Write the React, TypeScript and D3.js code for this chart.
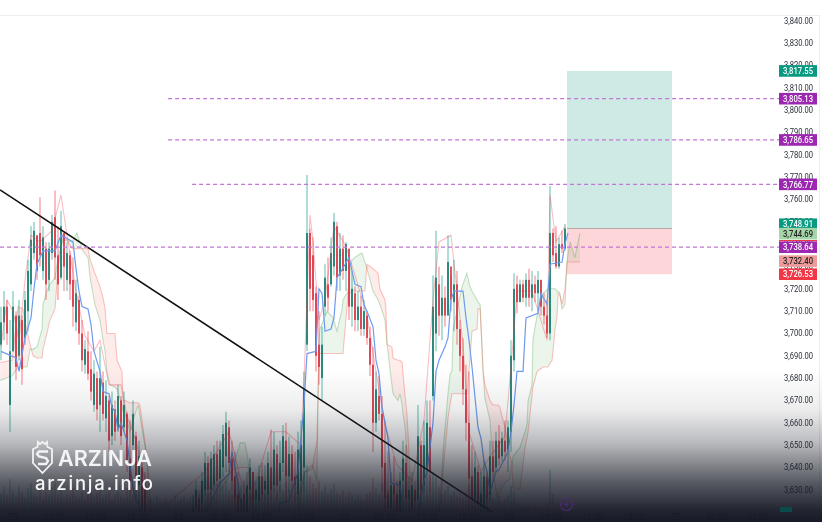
import React, { useEffect, useRef } from 'react';
import * as d3 from 'd3';

const WIDTH = 822;
const HEIGHT = 522;

const candleHigh = [
  3712, 3719, 3715, 3706, 3719, 3710, 3715, 3708, 3719, 3733,
  3748, 3750, 3744, 3761, 3748, 3741, 3741, 3753, 3764, 3748,
  3755, 3744, 3741, 3737, 3734, 3724, 3717, 3706, 3697, 3701,
  3692, 3688, 3683, 3694, 3683, 3679, 3672, 3674, 3670, 3677,
  3672, 3674, 3665, 3661, 3670, 3656, 3652, 3643, 3638,
  3614, 3612, 3610, 3611, 3609, 3608, 3610, 3607, 3609, 3608, 3610, 3609, 3611, 3612, 3614,
  3627, 3634, 3628, 3638, 3647, 3645, 3647, 3650, 3652, 3652,
  3659, 3665, 3661, 3652, 3647, 3638, 3632, 3634, 3638, 3644,
  3638, 3634, 3641, 3642, 3641, 3647, 3657, 3656, 3650, 3652,
  3659, 3660, 3654, 3650, 3647, 3656, 3661, 3683, 3771, 3747,
  3743, 3721, 3710, 3703, 3731, 3734, 3743, 3754, 3750, 3745,
  3744, 3741, 3735, 3728, 3721, 3719, 3717, 3715, 3710, 3703,
  3694, 3683, 3681, 3672, 3661, 3647, 3638, 3645, 3634, 3638,
  3652, 3650, 3636, 3638, 3634, 3668, 3652, 3661, 3670, 3670,
  3726, 3746, 3730, 3726, 3721, 3744, 3726, 3733, 3728, 3706,
  3698, 3686, 3683, 3650, 3647, 3641, 3638, 3643, 3638, 3652,
  3652, 3656, 3659, 3656, 3661, 3661, 3697, 3727, 3726, 3724,
  3724, 3727, 3729, 3728, 3726, 3728, 3724, 3718, 3715, 3766,
  3747, 3748, 3743, 3746, 3749,
];

const candleLow = [
  3688, 3697, 3695, 3656, 3692, 3679, 3688, 3677, 3695, 3701,
  3719, 3733, 3724, 3730, 3724, 3715, 3719, 3733, 3724, 3715,
  3724, 3719, 3719, 3715, 3703, 3701, 3695, 3683, 3682, 3679,
  3670, 3665, 3661, 3656, 3661, 3656, 3647, 3650, 3652, 3656,
  3650, 3656, 3638, 3629, 3647, 3625, 3620, 3616, 3612,
  3604, 3603, 3601, 3602, 3600, 3599, 3600, 3598, 3600, 3599, 3601, 3600, 3602, 3603, 3605,
  3612, 3620, 3612, 3620, 3627, 3625, 3625, 3629, 3629, 3629,
  3636, 3638, 3638, 3629, 3620, 3618, 3616, 3616, 3618, 3625,
  3620, 3620, 3623, 3625, 3625, 3623, 3625, 3629, 3625, 3629,
  3638, 3625, 3629, 3629, 3625, 3625, 3629, 3629, 3692, 3710,
  3710, 3683, 3677, 3670, 3708, 3710, 3721, 3726, 3719, 3719,
  3724, 3719, 3706, 3703, 3701, 3701, 3699, 3699, 3695, 3681,
  3647, 3656, 3661, 3629, 3620, 3618, 3616, 3620, 3616, 3618,
  3620, 3620, 3618, 3620, 3620, 3625, 3623, 3629, 3634, 3629,
  3670, 3692, 3699, 3697, 3703, 3710, 3710, 3701, 3695, 3683,
  3668, 3652, 3620, 3620, 3620, 3620, 3620, 3620, 3620, 3625,
  3634, 3638, 3641, 3643, 3643, 3638, 3647, 3683, 3709, 3715,
  3714, 3712, 3712, 3710, 3714, 3710, 3708, 3704, 3698, 3697,
  3732, 3729, 3729, 3736, 3737,
];

const candleOpen = [
  3695, 3705, 3712, 3668, 3692, 3708, 3690, 3706, 3698, 3710,
  3722, 3736, 3744, 3745, 3728, 3738, 3724, 3736, 3752, 3735,
  3725, 3745, 3724, 3735, 3724, 3705, 3715, 3700, 3686, 3692,
  3684, 3668, 3680, 3668, 3678, 3662, 3670, 3654, 3666, 3658,
  3670, 3658, 3664, 3644, 3650, 3654, 3632, 3640, 3630,
  3612, 3605, 3608, 3604, 3607, 3601, 3608, 3600, 3607, 3602, 3604, 3607, 3604, 3610, 3607,
  3616, 3622, 3626, 3624, 3630, 3642, 3630, 3632, 3646, 3635,
  3640, 3645, 3658, 3644, 3636, 3628, 3622, 3628, 3620, 3630,
  3638, 3626, 3625, 3636, 3630, 3628, 3640, 3632, 3646, 3634,
  3642, 3652, 3636, 3646, 3636, 3628, 3634, 3640, 3695, 3745,
  3735, 3718, 3695, 3680, 3712, 3722, 3722, 3730, 3748, 3726,
  3738, 3728, 3738, 3712, 3718, 3706, 3712, 3702, 3708, 3698,
  3686, 3660, 3672, 3664, 3642, 3628, 3622, 3632, 3628, 3620,
  3634, 3642, 3626, 3622, 3630, 3626, 3650, 3632, 3640, 3658,
  3672, 3700, 3722, 3708, 3716, 3708, 3730, 3714, 3722, 3702,
  3690, 3675, 3660, 3636, 3626, 3638, 3624, 3622, 3636, 3628,
  3645, 3640, 3652, 3645, 3652, 3648, 3656, 3688, 3722, 3714,
  3722, 3716, 3724, 3716, 3722, 3718, 3724, 3712, 3708, 3700,
  3745, 3736, 3730, 3740, 3738,
];

const candleClose = [
  3705, 3712, 3700, 3692, 3712, 3685, 3708, 3684, 3715, 3728,
  3742, 3746, 3728, 3735, 3743, 3722, 3738, 3750, 3734, 3722,
  3748, 3730, 3736, 3722, 3712, 3718, 3700, 3688, 3693, 3682,
  3674, 3682, 3666, 3680, 3664, 3672, 3652, 3668, 3656, 3672,
  3654, 3668, 3642, 3634, 3664, 3630, 3645, 3622, 3618,
  3605, 3608, 3604, 3607, 3601, 3606, 3602, 3605, 3602, 3606, 3606, 3602, 3609, 3605, 3612,
  3622, 3630, 3616, 3634, 3642, 3630, 3644, 3646, 3634, 3648,
  3655, 3660, 3642, 3634, 3626, 3620, 3626, 3618, 3632, 3640,
  3625, 3630, 3636, 3628, 3634, 3642, 3630, 3648, 3632, 3642,
  3654, 3636, 3646, 3634, 3632, 3648, 3650, 3675, 3745, 3720,
  3715, 3690, 3685, 3695, 3725, 3716, 3736, 3750, 3725, 3738,
  3728, 3740, 3712, 3720, 3706, 3712, 3702, 3710, 3698, 3686,
  3660, 3675, 3664, 3640, 3626, 3622, 3632, 3628, 3620, 3634,
  3644, 3626, 3630, 3632, 3625, 3654, 3630, 3650, 3660, 3638,
  3712, 3725, 3708, 3716, 3708, 3732, 3715, 3722, 3702, 3690,
  3675, 3660, 3635, 3626, 3640, 3624, 3628, 3636, 3626, 3645,
  3638, 3652, 3644, 3653, 3647, 3658, 3690, 3720, 3714, 3722,
  3716, 3724, 3716, 3722, 3718, 3724, 3712, 3708, 3700, 3745,
  3735, 3730, 3740, 3738, 3747,
];

const volumes = [
  30, 42, 28, 55, 36, 26, 44, 32, 24, 40,
  48, 30, 26, 38, 22, 34, 28, 42, 50, 30,
  36, 24, 30, 28, 40, 26, 22, 34, 20, 30,
  38, 26, 32, 44, 24, 30, 36, 22, 28, 34,
  26, 24, 40, 46, 30, 38, 34, 26, 28,
  18, 22, 16, 26, 20, 18, 24, 16, 20, 28, 18, 22, 26, 20, 24,
  30, 26, 36, 28, 42, 30, 34, 26, 38, 30,
  44, 52, 36, 30, 40, 26, 22, 30, 24, 34,
  28, 36, 26, 42, 30, 34, 50, 40, 32, 44,
  36, 52, 38, 30, 42, 48, 56, 68, 78, 60,
  48, 40, 52, 34, 44, 30, 38, 48, 32, 28,
  36, 26, 34, 30, 22, 28, 24, 20, 30, 34,
  56, 40, 30, 48, 44, 36, 30, 40, 26, 32,
  46, 38, 28, 34, 24, 44, 36, 46, 52, 60,
  66, 58, 42, 30, 36, 44, 28, 34, 26, 30,
  24, 32, 46, 36, 40, 28, 34, 30, 26, 36,
  24, 20, 26, 18, 22, 28, 44, 36, 14, 10,
  12, 9, 14, 10, 12, 8, 11, 9, 14, 70,
  30, 14, 12, 10, 9,
];

// blue base line
const baseBars = [
  0, 5, 6, 8, 10, 11, 12, 14, 18, 20, 24, 25, 26, 27, 29, 30, 31, 33, 34, 36, 37, 38, 39, 40, 42, 44,
  45, 46, 48, 66, 69, 73, 76, 77, 79, 80, 81, 91, 93, 96, 99, 101, 102, 105, 106, 107, 108, 110, 111,
  112, 113, 116, 118, 120, 121, 122, 124, 125, 126, 127, 129, 130, 133, 134, 135, 138, 141, 142, 144,
  145, 146, 148, 149, 150, 151, 154, 155, 156, 157, 159, 160, 161, 162, 163, 165, 166, 169, 170, 171,
  172, 174, 175, 179, 180, 182, 183, 187, 188, 189,
];
const basePrices = [
  3692, 3689, 3683, 3698, 3707, 3720, 3731, 3737, 3737, 3744, 3741, 3729, 3719, 3712, 3711, 3704, 3692,
  3683, 3674, 3673, 3667, 3665, 3657, 3660, 3652, 3631, 3625, 3624, 3612, 3612, 3622, 3633, 3637, 3647,
  3633, 3622, 3612, 3612, 3624, 3625, 3638, 3668, 3691, 3692, 3720, 3718, 3701, 3702, 3707, 3725, 3727,
  3734, 3722, 3721, 3713, 3710, 3703, 3688, 3682, 3667, 3653, 3633, 3632, 3622, 3612, 3612, 3634, 3638,
  3660, 3683, 3688, 3694, 3698, 3715, 3719, 3719, 3707, 3697, 3685, 3658, 3653, 3643, 3638, 3629, 3638,
  3639, 3647, 3656, 3668, 3683, 3683, 3707, 3709, 3718, 3713, 3731, 3732, 3740, 3745,
];

// pink conversion line
const conversionBars = [
  0, 2, 4, 6, 8, 10, 13, 17, 20, 22, 25, 28, 31, 33, 36, 40, 42, 45, 48, 50,
  68, 71, 76, 80, 83, 90, 95, 100, 101, 103, 104, 106, 108, 111, 115, 118, 122,
  125, 128, 132, 137, 141, 144, 146, 150, 152, 154, 156, 160, 163, 168, 171, 172, 177, 182, 183, 185, 188,
];
const conversionPrices = [
  3694, 3715, 3710, 3697, 3724, 3744, 3741, 3746, 3762, 3744, 3719, 3699, 3692, 3697, 3677, 3677, 3663,
  3652, 3634, 3618, 3638, 3645, 3656, 3634, 3625, 3656, 3656, 3650, 3679, 3753, 3741, 3706, 3715, 3748,
  3739, 3726, 3708, 3683, 3659, 3641, 3634, 3661, 3715, 3741, 3744, 3719, 3695, 3656, 3638, 3645, 3654,
  3701, 3719, 3719, 3697, 3762, 3741, 3748,
];

// cloud edges share the same bars so the fill can run between them
const cloudBars = [
  -0.3, 3.7, 5.7, 7.3, 8.7, 9.7, 10.7, 12, 13.7, 14, 15.3, 16.3, 18, 19, 20.7, 23.7, 25.3, 27.3, 29, 29.7,
  31.3, 33, 34, 34.7, 35.3, 36.3, 38, 38.7, 40.3, 40.7, 41.3, 43, 44, 45.7, 46.3, 47.3, 48.7, 49.7, 50.7,
  66.3, 68.7, 70.7, 72, 74, 75.7, 77.3, 79.7, 81.3, 82.3, 83, 84, 85.7, 98, 99.7, 101.3, 103.7, 105.3, 106,
  106.3, 108.7, 110.7, 112, 113.7, 114, 115.7, 116.3, 117, 119, 120.3, 121.3, 122, 124, 125.7, 126.3, 128,
  128.3, 128.7, 130.3, 130.7, 132.3, 133, 133.7, 134, 134.7, 135.3, 135.7, 136.3, 137, 138, 145.7, 147,
  147.3, 149, 149.7, 150.3, 150.7, 153.7, 155.3, 156.3, 157, 158.7, 159, 159.7, 160.7, 161.3, 163, 164,
  165.3, 165.7, 166.3, 167, 168, 169.7, 170.3, 170.7, 173, 174.7, 175.3, 175.7, 177, 177.3, 178.7, 179.7,
  180.7, 182.3, 183.7, 184.7, 185.3, 185.7, 186.3, 187, 188, 188.7, 189.7, 191.3, 193,
];
const spanA = [
  3679, 3681, 3685, 3685, 3685, 3693, 3693, 3694, 3702, 3713, 3719, 3722, 3725, 3734, 3742, 3741, 3745,
  3737, 3734, 3725, 3713, 3706, 3697, 3692, 3683, 3677, 3676, 3675, 3668, 3665, 3664, 3656, 3661, 3668,
  3663, 3655, 3644, 3624, 3612, 3612, 3621, 3623, 3625, 3632, 3635, 3640, 3651, 3651, 3644, 3633, 3621,
  3612, 3612, 3629, 3638, 3641, 3634, 3697, 3702, 3710, 3707, 3701, 3711, 3715, 3719, 3728, 3733, 3735,
  3736, 3732, 3729, 3719, 3715, 3713, 3706, 3701, 3695, 3677, 3673, 3670, 3673, 3668, 3664, 3658, 3646,
  3624, 3616, 3612, 3612, 3612, 3638, 3647, 3673, 3682, 3683, 3702, 3721, 3727, 3721, 3719, 3715, 3714,
  3713, 3683, 3671, 3661, 3640, 3626, 3628, 3629, 3631, 3633, 3635, 3641, 3645, 3649, 3656, 3659, 3670,
  3677, 3697, 3708, 3713, 3718, 3720, 3720, 3720, 3719, 3719, 3718, 3711, 3713, 3733, 3741, 3734, 3745,
];
const spanB = [
  3687, 3688, 3712, 3711, 3701, 3695, 3690, 3689, 3689, 3693, 3700, 3706, 3711, 3729, 3745, 3738, 3738,
  3738, 3738, 3733, 3727, 3721, 3716, 3711, 3700, 3700, 3700, 3688, 3683, 3670, 3670, 3669, 3669, 3669,
  3668, 3658, 3644, 3624, 3612, 3612, 3626, 3631, 3632, 3635, 3637, 3639, 3640, 3640, 3640, 3629, 3618,
  3612, 3612, 3625, 3638, 3639, 3652, 3691, 3691, 3691, 3691, 3691, 3691, 3691, 3718, 3718, 3719, 3719,
  3719, 3719, 3731, 3729, 3727, 3720, 3715, 3711, 3695, 3694, 3689, 3688, 3688, 3687, 3682, 3672, 3664,
  3655, 3638, 3621, 3612, 3612, 3632, 3638, 3662, 3668, 3673, 3673, 3673, 3673, 3688, 3701, 3702, 3711,
  3711, 3683, 3677, 3670, 3668, 3668, 3668, 3667, 3663, 3658, 3645, 3642, 3631, 3630, 3649, 3653, 3656,
  3672, 3676, 3683, 3684, 3685, 3685, 3688, 3702, 3707, 3718, 3717, 3713, 3720, 3732, 3732, 3732, 3732,
];

const trendBars = [-0.33, 163.7];
const trendPrices = [3764.3, 3620];

const positionBars = [188.67, 223.67];
const positionTarget = 3817.55;
const positionEntry = 3747;
const positionStop = 3726.53;

const dashedLevels = [3805.13, 3786.65, 3766.77, 3738.64];
const dashedStartBars = [55.7, 55.7, 63.7, -0.33];

const priceTicks = [
  3840, 3830, 3820, 3810, 3800, 3790, 3780, 3770, 3760, 3750, 3740, 3730, 3720,
  3710, 3700, 3690, 3680, 3670, 3660, 3650, 3640, 3630,
];

const timeLabels = [
  '23', '06:00', '12:00', '18:00', '24', '06:00', '12:00', '18:00', '25', '06:00',
  '12:00', '18:00', '26', '06:00', '12:00', '18:00', '27', '06:00', '12:00',
];

const badgePrices = [3817.55, 3805.13, 3786.65, 3766.77, 3748.91, 3744.69, 3738.64, 3732.4, 3726.53];
const badgeFills = ['#089981', '#9c27b0', '#9c27b0', '#9c27b0', '#089981', '#a5d6a7', '#9c27b0', '#ef9a9a', '#f23645'];
const badgeInks = ['#fff', '#fff', '#fff', '#fff', '#fff', '#222', '#fff', '#222', '#fff'];

const UP = '#089981';
const UP_BODY = '#0b7566';
const DOWN = '#f23645';
const DOWN_BODY = '#d92c3e';
const PURPLE = '#c277d6';
const FONT = 'Roboto, "Liberation Sans", sans-serif';

export default function App() {
  const svgRef = useRef<SVGSVGElement>(null);

  useEffect(() => {
    if (!svgRef.current) return;

    // Clear previous content
    d3.select(svgRef.current).selectAll('*').remove();
    const svg = d3.select(svgRef.current);

    const x = d3.scaleLinear().domain([0, 100]).range([1, 301]);
    const y = d3.scaleLinear().domain([3840, 3630]).range([20.8, 489.8]);
    const volumeY = d3.scaleLinear().domain([0, 100]).range([512, 452]);
    const timeX = d3.scaleLinear().domain([0, 18]).range([13, 758]);
    const line = d3.line<[number, number]>().x((d) => x(d[0])).y((d) => y(d[1]));

    const defs = svg.append('defs');
    defs.append('clipPath').attr('id', 'pane').append('rect')
      .attr('x', 0).attr('y', 15).attr('width', 778).attr('height', 497);
    const fade = defs.append('linearGradient').attr('id', 'fade')
      .attr('x1', 0).attr('x2', 0).attr('y1', 0).attr('y2', 1);
    const fadeStops: [number, number][] = [[0, 0], [0.26, 0.08], [0.48, 0.3], [0.74, 0.72], [0.92, 0.95], [1, 1]];
    fadeStops.forEach(([offset, alpha]) => {
      fade.append('stop').attr('offset', offset).attr('stop-color', '#171a26').attr('stop-opacity', alpha);
    });

    svg.append('rect').attr('width', WIDTH).attr('height', HEIGHT).attr('fill', '#fff');

    // Pane borders
    svg.append('line').attr('x1', 0).attr('x2', 819).attr('y1', 15.5).attr('y2', 15.5).attr('stroke', '#eeeeee');
    svg.append('line').attr('x1', 819.5).attr('x2', 819.5).attr('y1', 15).attr('y2', 522).attr('stroke', '#eeeeee');

    const pane = svg.append('g').attr('clip-path', 'url(#pane)');

    // Position tool
    pane.append('rect')
      .attr('x', x(positionBars[0])).attr('width', x(positionBars[1]) - x(positionBars[0]))
      .attr('y', y(positionTarget)).attr('height', y(positionEntry) - y(positionTarget))
      .attr('fill', '#cfeae4');
    pane.append('rect')
      .attr('x', x(positionBars[0])).attr('width', x(positionBars[1]) - x(positionBars[0]))
      .attr('y', y(positionEntry)).attr('height', y(positionStop) - y(positionEntry))
      .attr('fill', '#fcd6d9');
    pane.append('line')
      .attr('x1', x(positionBars[0])).attr('x2', x(positionBars[1]))
      .attr('y1', y(positionEntry)).attr('y2', y(positionEntry))
      .attr('stroke', '#b9aaa8').attr('stroke-width', 1);

    // Volume
    pane.append('g').selectAll('rect').data(volumes).join('rect')
      .attr('x', (_, i) => x(i) - 1)
      .attr('width', 2)
      .attr('y', (d) => volumeY(d))
      .attr('height', (d) => volumeY(0) - volumeY(d))
      .attr('fill', (_, i) => (candleClose[i] >= candleOpen[i] ? UP : DOWN))
      .attr('opacity', 0.28);

    // Cloud
    const cloudArea = d3.area<number>()
      .x((i) => x(cloudBars[i]))
      .y0((i) => y(spanA[i]))
      .y1((i) => y(spanB[i]));
    pane.append('g').selectAll('path').data(d3.range(cloudBars.length - 1)).join('path')
      .attr('d', (i) => cloudArea([i, i + 1]))
      .attr('fill', (i) => (spanA[i] + spanA[i + 1] >= spanB[i] + spanB[i + 1] ? '#43a047' : '#f44336'))
      .attr('opacity', 0.1);
    const spanLine = (values: number[], color: string) => {
      pane.append('path')
        .attr('d', line(cloudBars.map((b, i) => [b, values[i]] as [number, number])))
        .attr('fill', 'none').attr('stroke', color).attr('stroke-width', 1.1);
    };
    spanLine(spanA, 'rgba(67,160,71,0.3)');
    spanLine(spanB, 'rgba(244,67,54,0.3)');

    // Candles
    const candles = pane.append('g').selectAll('g').data(candleHigh).join('g');
    candles.append('line')
      .attr('x1', (_, i) => x(i)).attr('x2', (_, i) => x(i))
      .attr('y1', (d) => y(d)).attr('y2', (_, i) => y(candleLow[i]))
      .attr('stroke', (_, i) => (candleClose[i] >= candleOpen[i] ? UP : DOWN))
      .attr('stroke-opacity', 0.6)
      .attr('stroke-width', 1.1);
    candles.append('rect')
      .attr('x', (_, i) => x(i) - 0.8)
      .attr('width', 1.6)
      .attr('y', (_, i) => y(Math.max(candleOpen[i], candleClose[i])))
      .attr('height', (_, i) => Math.max(1, Math.abs(y(candleOpen[i]) - y(candleClose[i]))))
      .attr('fill', (_, i) => (candleClose[i] >= candleOpen[i] ? UP_BODY : DOWN_BODY));

    // Conversion and base lines
    pane.append('path')
      .attr('d', line(conversionBars.map((b, i) => [b, conversionPrices[i]] as [number, number])))
      .attr('fill', 'none').attr('stroke', 'rgba(242,54,69,0.32)').attr('stroke-width', 1.1);
    pane.append('path')
      .attr('d', line(baseBars.map((b, i) => [b, basePrices[i]] as [number, number])))
      .attr('fill', 'none').attr('stroke', '#6d9af0').attr('stroke-width', 1.2);

    // Trend line
    pane.append('path')
      .attr('d', line(trendBars.map((b, i) => [b, trendPrices[i]] as [number, number])))
      .attr('fill', 'none').attr('stroke', '#111').attr('stroke-width', 1.6);

    // Dashed levels
    svg.append('g').selectAll('line').data(dashedLevels).join('line')
      .attr('x1', (_, i) => x(dashedStartBars[i])).attr('x2', 779)
      .attr('y1', (d) => y(d)).attr('y2', (d) => y(d))
      .attr('stroke', PURPLE).attr('stroke-width', 1.3).attr('stroke-dasharray', '4 3');

    // Price axis
    const axisG = svg.append('g').attr('font-family', FONT).attr('font-size', 8.8);
    axisG.selectAll('text').data(priceTicks).join('text')
      .attr('x', 813).attr('y', (d) => y(d) + 3)
      .attr('text-anchor', 'end').attr('fill', '#2a2e39')
      .attr('textLength', 29).attr('lengthAdjust', 'spacingAndGlyphs')
      .text((d) => d3.format(',.2f')(d));

    // Time axis
    svg.append('g').attr('font-family', FONT).attr('font-size', 8.6)
      .selectAll('text').data(timeLabels).join('text')
      .attr('x', (_, i) => timeX(i)).attr('y', 520)
      .attr('text-anchor', 'middle').attr('fill', '#2a2e39')
      .text((d) => d);

    // Dark fade over the lower part
    svg.append('rect').attr('x', 0).attr('y', 370).attr('width', WIDTH).attr('height', 152)
      .attr('fill', 'url(#fade)');

    // Price badges
    svg.append('line').attr('x1', 779).attr('x2', 817).attr('y1', 240.5).attr('y2', 240.5)
      .attr('stroke', DOWN).attr('stroke-width', 1.2);
    const badges = svg.append('g').selectAll('g').data(badgePrices).join('g')
      .attr('transform', (d) => `translate(779,${y(d)})`);
    badges.append('rect')
      .attr('y', -5.8).attr('width', 38).attr('height', 11.6)
      .attr('fill', (_, i) => badgeFills[i]);
    badges.append('text')
      .attr('x', 34).attr('y', 3.2)
      .attr('text-anchor', 'end')
      .attr('font-family', FONT).attr('font-size', 8.8).attr('font-weight', 500)
      .attr('fill', (_, i) => badgeInks[i])
      .attr('textLength', 30).attr('lengthAdjust', 'spacingAndGlyphs')
      .text((d) => d3.format(',.2f')(d));

    // Small marks at the bottom
    const bolt = svg.append('g').attr('transform', 'translate(566.5,504.5)');
    bolt.append('circle').attr('r', 6).attr('fill', 'none').attr('stroke', '#4b2a6e').attr('stroke-width', 1.1);
    bolt.append('path').attr('d', 'M1,-4 L-2.5,0.6 L-0.3,0.6 L-1,4 L2.5,-0.8 L0.3,-0.8 Z').attr('fill', '#4b2a6e');
    svg.append('rect').attr('x', 780).attr('y', 507).attr('width', 12).attr('height', 5).attr('fill', '#0b4a4a');

    // Watermark
    const logo = svg.append('g').attr('transform', 'translate(33,441)');
    logo.append('path')
      .attr('d', 'M5,1 L7,3 L9.5,1 L12,3 L14,1 L14.5,6 L19,8 L19,22 L9.5,32 L0,22 L0,8 L4.5,6 Z')
      .attr('fill', 'none').attr('stroke', '#f2f2f4').attr('stroke-width', 1.8);
    logo.append('path')
      .attr('d', 'M15,10.5 L6,10.5 L4,13 L6,15.5 L13,17 L15,20 L13,23 L5,23')
      .attr('fill', 'none').attr('stroke', '#f2f2f4').attr('stroke-width', 2.4);
    svg.append('text')
      .attr('x', 58).attr('y', 466)
      .attr('font-family', 'Inter, sans-serif').attr('font-size', 21.5).attr('font-weight', 600)
      .attr('fill', '#f4f4f6')
      .attr('textLength', 94).attr('lengthAdjust', 'spacing')
      .text('ARZINJA');
    svg.append('text')
      .attr('x', 35).attr('y', 490)
      .attr('font-family', 'Inter, sans-serif').attr('font-size', 18.5).attr('font-weight', 500)
      .attr('fill', '#f4f4f6')
      .attr('textLength', 118).attr('lengthAdjust', 'spacing')
      .text('arzinja.info');
  }, []);

  return (
    <svg
      ref={svgRef}
      width={WIDTH}
      height={HEIGHT}
      style={{ position: 'absolute', left: 0, top: 0, filter: 'blur(0.5px)' }}
    />
  );
}
